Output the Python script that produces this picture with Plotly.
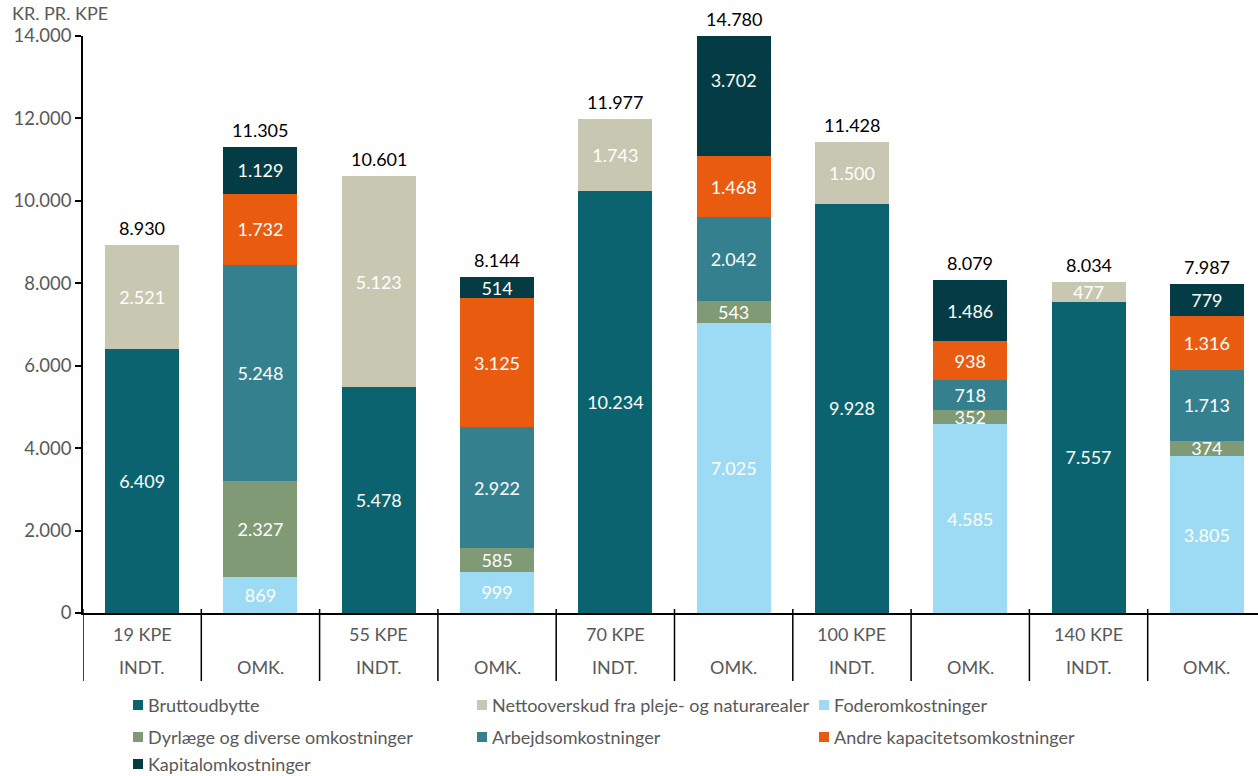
import plotly.graph_objects as go
import numpy as np

# ---------------- data ----------------
groups = ["19 KPE", "55 KPE", "70 KPE", "100 KPE", "140 KPE"]
kinds = ["INDT.", "OMK."]
categories = [f"{g} {k}" for g in groups for k in kinds]

series_names = [
    "Bruttoudbytte",
    "Nettooverskud fra pleje- og naturarealer",
    "Foderomkostninger",
    "Dyrlæge og diverse omkostninger",
    "Arbejdsomkostninger",
    "Andre kapacitetsomkostninger",
    "Kapitalomkostninger",
]
bruttoudbytte = [6409, None, 5478, None, 10234, None, 9928, None, 7557, None]
nettooverskud = [2521, None, 5123, None, 1743, None, 1500, None, 477, None]
foderomk = [None, 869, None, 999, None, 7025, None, 4585, None, 3805]
dyrlaege = [None, 2327, None, 585, None, 543, None, 352, None, 374]
arbejdsomk = [None, 5248, None, 2922, None, 2042, None, 718, None, 1713]
andre_kap = [None, 1732, None, 3125, None, 1468, None, 938, None, 1316]
kapitalomk = [None, 1129, None, 514, None, 3702, None, 1486, None, 779]
totals = [8930, 11305, 10601, 8144, 11977, 14780, 11428, 8079, 8034, 7987]

y_ticks = [0, 2000, 4000, 6000, 8000, 10000, 12000, 14000]

# ---------------- style ----------------
colors = ["#0b6370", "#c8c7b1", "#9ddbf5", "#7f9a74", "#35808f", "#e95c10", "#043c45"]
FONT = "Lato"
GRAY = "#595959"
FS = 18
W, H = 1258, 776
L, R, T, B = 83, 0, 36, 163
PW, PH = W - L - R, H - T - B
YMAX = 14000


def fmt(v):
    return f"{v:,}".replace(",", ".")


def px2paper_x(px):
    return (px - L) / PW


def px2paper_y(py):
    return (H - B - py) / PH


series_values = [bruttoudbytte, nettooverskud, foderomk, dyrlaege, arbejdsomk, andre_kap, kapitalomk]

fig = go.Figure()
for name, vals, col in zip(series_names, series_values, colors):
    fig.add_trace(go.Bar(
        x=categories, y=vals, name=name, marker=dict(color=col, line=dict(width=0)),
        text=[fmt(v) if v else "" for v in vals],
        textposition="inside", insidetextanchor="middle", textangle=0,
        constraintext="none",
        textfont=dict(family=FONT, size=FS, color="white"),
        showlegend=False, hoverinfo="x+y+name",
    ))

shapes = []
annotations = []

# totals above bars (clamped to visible axis top)
for c, t in zip(categories, totals):
    annotations.append(dict(x=c, xref="x", y=min(t, YMAX), yref="y", text=fmt(t),
                            showarrow=False, xanchor="center", yanchor="middle", yshift=17,
                            font=dict(family=FONT, size=FS, color="black")))

# category separators
for i in range(len(categories)):
    shapes.append(dict(type="line", xref="x", yref="paper",
                       x0=i - 0.5, x1=i - 0.5, y0=px2paper_y(609), y1=px2paper_y(681),
                       line=dict(color="black", width=1.5)))
# category labels
for i, c in enumerate(categories):
    g, k = groups[i // 2], kinds[i % 2]
    if k == "INDT.":
        annotations.append(dict(x=c, xref="x", y=px2paper_y(634), yref="paper", text=g,
                                xanchor="center", yanchor="middle",
                                showarrow=False, font=dict(family=FONT, size=FS, color=GRAY)))
    annotations.append(dict(x=c, xref="x", y=px2paper_y(667), yref="paper", text=k,
                            xanchor="center", yanchor="middle",
                            showarrow=False, font=dict(family=FONT, size=FS, color=GRAY)))

# axis title
annotations.append(dict(x=px2paper_x(10), y=px2paper_y(13), xref="paper", yref="paper",
                        xanchor="left", yanchor="middle", text="KR. PR. KPE", showarrow=False,
                        font=dict(family=FONT, size=FS, color=GRAY)))

# legend (manual, 3 columns)
col_x = [133, 477, 819]
row_y = [705, 737, 764]
for idx, (name, col) in enumerate(zip(series_names, colors)):
    cx = col_x[idx % 3]
    cy = row_y[idx // 3]
    shapes.append(dict(type="rect", xref="paper", yref="paper",
                       x0=px2paper_x(cx), x1=px2paper_x(cx + 10),
                       y0=px2paper_y(cy + 5), y1=px2paper_y(cy - 5),
                       fillcolor=col, line=dict(width=0)))
    annotations.append(dict(x=px2paper_x(cx + 13), y=px2paper_y(cy), xref="paper", yref="paper",
                            xanchor="left", yanchor="middle", text=name, showarrow=False,
                            font=dict(family=FONT, size=FS, color=GRAY)))

fig.update_layout(
    width=W, height=H,
    margin=dict(l=L, r=R, t=T, b=B, pad=0),
    barmode="stack", bargap=0.375,
    plot_bgcolor="white", paper_bgcolor="white",
    separators=",.",
    font=dict(family=FONT, size=FS, color=GRAY),
    shapes=shapes, annotations=annotations,
    showlegend=False,
)
fig.update_xaxes(
    type="category", range=[-0.5, len(categories) - 0.5 - 8 / 118.3],
    showticklabels=False, ticks="", showline=True, linecolor="black", linewidth=1.5,
    showgrid=False, zeroline=False,
)
fig.update_yaxes(
    range=[0, YMAX], tickvals=y_ticks, ticktext=[fmt(v) for v in y_ticks],
    ticks="outside", ticklen=6, tickcolor="black", tickwidth=1.5,
    showline=True, linecolor="black", linewidth=1.5,
    showgrid=False, zeroline=False,
    tickfont=dict(family=FONT, size=FS + 0.5, color=GRAY),
)

fig.write_html("out.html", config={"displayModeBar": False},
               post_script="document.body.style.margin='0px';document.body.style.overflow='hidden';")
